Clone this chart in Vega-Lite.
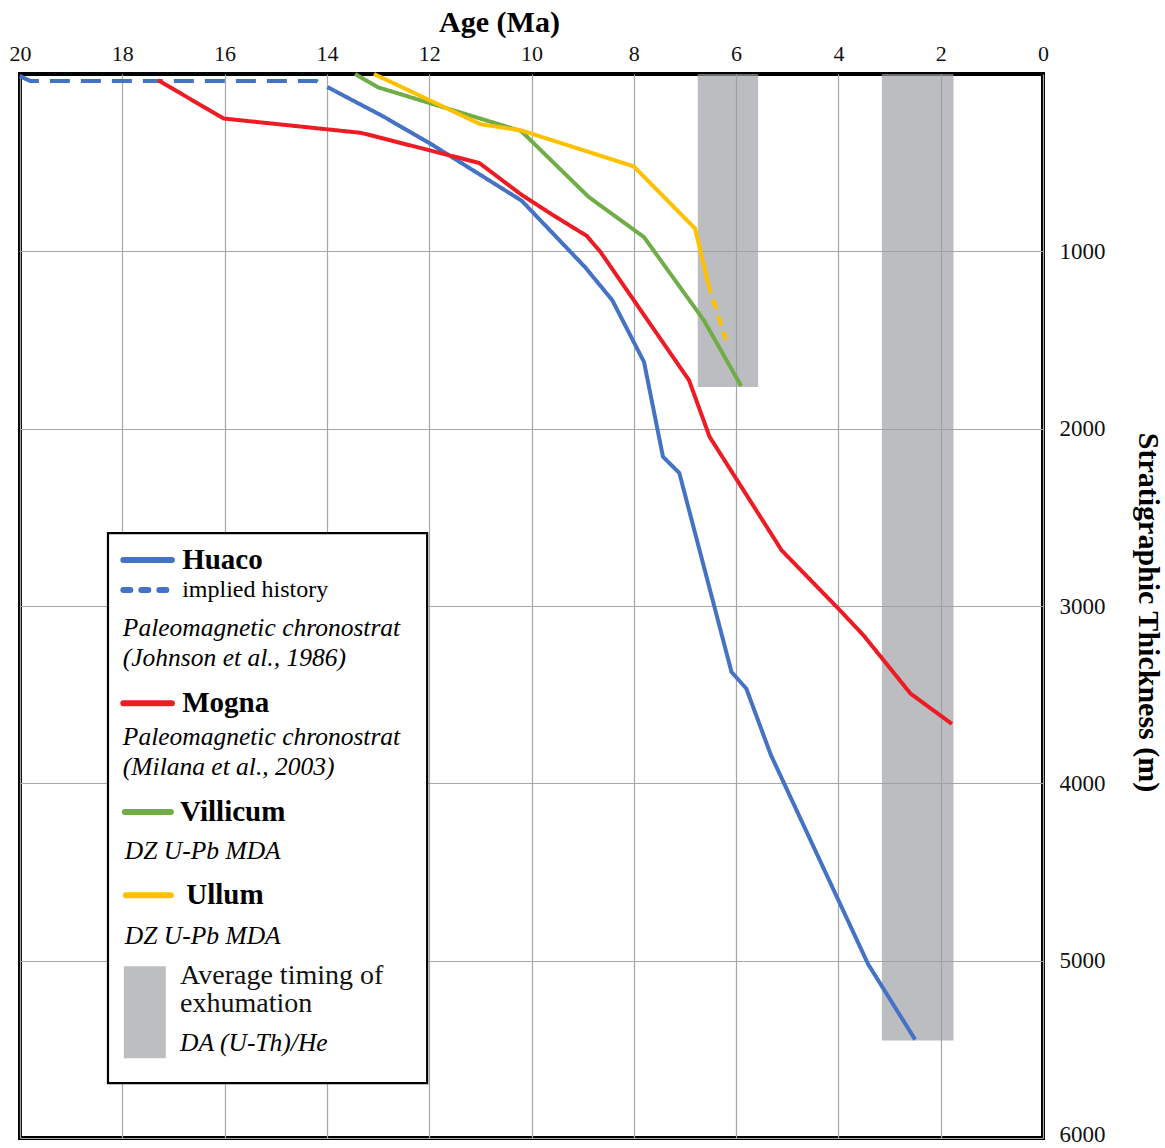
{
  "$schema": "https://vega.github.io/schema/vega-lite/v6.json",
  "width": 1023,
  "height": 1064,
  "autosize": {"type": "none"},
  "padding": {"left": 20, "top": 74, "right": 122, "bottom": 10},
  "background": "white",
  "config": {
    "view": {"stroke": "#000000", "strokeWidth": 4},
    "font": "Liberation Serif",
    "axis": {"labelFont": "Liberation Serif", "titleFont": "Liberation Serif", "labelColor": "#111", "titleColor": "#000", "gridColor": "#a6a6a6", "gridWidth": 1.2, "ticks": false, "domain": false}
  },
  "datasets": {
    "lines": [
      {"series": "Huaco implied", "age": 20.0, "thick": 12},
      {"series": "Huaco implied", "age": 19.8, "thick": 40},
      {"series": "Huaco implied", "age": 14.2, "thick": 40},
      {"series": "Huaco implied", "age": 13.85, "thick": 95},
      {"series": "Huaco", "age": 13.85, "thick": 95},
      {"series": "Huaco", "age": 12.88, "thick": 242},
      {"series": "Huaco", "age": 11.98, "thick": 392},
      {"series": "Huaco", "age": 10.19, "thick": 715},
      {"series": "Huaco", "age": 8.95, "thick": 1090},
      {"series": "Huaco", "age": 8.42, "thick": 1276},
      {"series": "Huaco", "age": 7.8, "thick": 1624},
      {"series": "Huaco", "age": 7.43, "thick": 2158},
      {"series": "Huaco", "age": 7.11, "thick": 2250},
      {"series": "Huaco", "age": 6.09, "thick": 3372},
      {"series": "Huaco", "age": 5.8, "thick": 3466},
      {"series": "Huaco", "age": 5.32, "thick": 3840},
      {"series": "Huaco", "age": 3.42, "thick": 5019},
      {"series": "Huaco", "age": 2.5, "thick": 5445},
      {"series": "Mogna", "age": 17.3, "thick": 35},
      {"series": "Mogna", "age": 16.02, "thick": 251},
      {"series": "Mogna", "age": 13.33, "thick": 332},
      {"series": "Mogna", "age": 11.02, "thick": 502},
      {"series": "Mogna", "age": 10.2, "thick": 680},
      {"series": "Mogna", "age": 9.6, "thick": 792},
      {"series": "Mogna", "age": 8.92, "thick": 913},
      {"series": "Mogna", "age": 8.65, "thick": 1004},
      {"series": "Mogna", "age": 6.92, "thick": 1727},
      {"series": "Mogna", "age": 6.52, "thick": 2045},
      {"series": "Mogna", "age": 5.11, "thick": 2686},
      {"series": "Mogna", "age": 4.0, "thick": 3015},
      {"series": "Mogna", "age": 3.51, "thick": 3165},
      {"series": "Mogna", "age": 2.59, "thick": 3494},
      {"series": "Mogna", "age": 1.78, "thick": 3665},
      {"series": "Villicum", "age": 13.45, "thick": 0},
      {"series": "Villicum", "age": 13.0, "thick": 75},
      {"series": "Villicum", "age": 10.2, "thick": 322},
      {"series": "Villicum", "age": 8.88, "thick": 694},
      {"series": "Villicum", "age": 7.8, "thick": 920},
      {"series": "Villicum", "age": 6.63, "thick": 1389},
      {"series": "Villicum", "age": 5.9, "thick": 1760},
      {"series": "Ullum", "age": 13.08, "thick": 0},
      {"series": "Ullum", "age": 11.0, "thick": 283},
      {"series": "Ullum", "age": 10.2, "thick": 318},
      {"series": "Ullum", "age": 8.0, "thick": 521},
      {"series": "Ullum", "age": 6.8, "thick": 872},
      {"series": "Ullum", "age": 6.55, "thick": 1180},
      {"series": "Ullum inferred", "age": 6.55, "thick": 1180},
      {"series": "Ullum inferred", "age": 6.2, "thick": 1500}
    ],
    "bands": [
      {"start": 6.75, "end": 5.57, "top": 0, "bottom": 1765},
      {"start": 3.15, "end": 1.75, "top": 0, "bottom": 5450}
    ],
    "legendBox": [
      {"a1": 18.28, "a2": 12.04, "t1": 2589, "t2": 5691}
    ],
    "legendSwatch": [
      {"a1": 17.97, "a2": 17.15, "t1": 5031, "t2": 5550}
    ],
    "legendLines": [
      {"series": "Huaco", "a1": 17.98, "a2": 17.03, "t": 2741},
      {"series": "Mogna", "a1": 17.98, "a2": 17.03, "t": 3548},
      {"series": "Villicum", "a1": 17.95, "a2": 17.05, "t": 4162},
      {"series": "Ullum", "a1": 17.93, "a2": 17.05, "t": 4631}
    ],
    "legendDashed": [
      {"series": "Huaco implied", "a1": 17.98, "a2": 17.03, "t": 2910}
    ],
    "legendText": [
      {"role": "name", "label": "Huaco", "age": 16.83, "thick": 2741},
      {"role": "plain", "label": "implied history", "age": 16.83, "thick": 2910},
      {"role": "note", "label": "Paleomagnetic chronostrat", "age": 17.99, "thick": 3125},
      {"role": "note", "label": "(Johnson et al., 1986)", "age": 17.99, "thick": 3294},
      {"role": "name", "label": "Mogna", "age": 16.83, "thick": 3548},
      {"role": "note", "label": "Paleomagnetic chronostrat", "age": 17.99, "thick": 3739},
      {"role": "note", "label": "(Milana et al., 2003)", "age": 17.99, "thick": 3909},
      {"role": "name", "label": "Villicum", "age": 16.87, "thick": 4162},
      {"role": "note", "label": "DZ U-Pb MDA", "age": 17.95, "thick": 4382},
      {"role": "name", "label": "Ullum", "age": 16.75, "thick": 4631},
      {"role": "note", "label": "DZ U-Pb MDA", "age": 17.95, "thick": 4862},
      {"role": "shade", "label": "Average timing of", "age": 16.87, "thick": 5085},
      {"role": "shade", "label": "exhumation", "age": 16.87, "thick": 5243},
      {"role": "note", "label": "DA (U-Th)/He", "age": 16.87, "thick": 5465}
    ]
  },
  "layer": [
    {
      "data": {"name": "bands"},
      "mark": {"type": "rect", "fill": "#9c9ea2", "opacity": 0.68},
      "encoding": {
        "x": {"field": "start", "type": "quantitative", "title": "Age (Ma)",
          "scale": {"domain": [0, 20], "reverse": true, "nice": false, "zero": false},
          "axis": {"orient": "top", "values": [0, 2, 4, 6, 8, 10, 12, 14, 16, 18, 20], "titleFontSize": 30, "titleFontWeight": "bold", "titleX": 479, "titleY": -52, "titleBaseline": "middle", "titleAlign": "center", "labelFontSize": 22, "labelPadding": 9, "labelFlush": false, "grid": true}},
        "x2": {"field": "end"},
        "y": {"field": "top", "type": "quantitative", "title": "Stratigraphic Thickness (m)",
          "scale": {"domain": [0, 6000], "reverse": true, "nice": false, "zero": false},
          "axis": {"orient": "right", "values": [1000, 2000, 3000, 4000, 5000, 6000], "format": "d", "titleFontSize": 30, "titleFontWeight": "bold", "titleAngle": 90, "titleX": 104, "titleY": 538, "titleBaseline": "middle", "titleAlign": "center", "labelFontSize": 23, "labelPadding": 16, "labelAlign": "left", "labelFlush": false, "labelOffset": {"condition": {"test": "datum.value == 6000", "value": -4}, "value": 0}, "grid": true}},
        "y2": {"field": "bottom"}
      }
    },
    {
      "data": {"name": "lines"},
      "mark": {"type": "line", "strokeJoin": "miter", "strokeCap": "butt"},
      "encoding": {
        "x": {"field": "age", "type": "quantitative", "title": "Age (Ma)"},
        "y": {"field": "thick", "type": "quantitative", "title": "Stratigraphic Thickness (m)"},
        "order": {"field": "thick", "type": "quantitative"},
        "color": {"field": "series", "type": "nominal", "legend": null,
          "scale": {"domain": ["Huaco", "Huaco implied", "Mogna", "Villicum", "Ullum", "Ullum inferred"], "range": ["#4472C4", "#4472C4", "#ED1C24", "#70AD47", "#FFC000", "#FFC000"]}},
        "strokeDash": {"field": "series", "type": "nominal", "legend": null,
          "scale": {"domain": ["Huaco", "Huaco implied", "Mogna", "Villicum", "Ullum", "Ullum inferred"], "range": [[1, 0], [20, 11], [1, 0], [1, 0], [1, 0], [10, 7]]}},
        "size": {"field": "series", "type": "nominal", "legend": null,
          "scale": {"domain": ["Huaco", "Huaco implied", "Mogna", "Villicum", "Ullum", "Ullum inferred"], "range": [4, 4, 4, 3, 4, 4]}}
      }
    },
    {
      "data": {"name": "legendBox"},
      "mark": {"type": "rect", "fill": "white", "stroke": "#000", "strokeWidth": 2.2},
      "encoding": {
        "x": {"field": "a1", "type": "quantitative", "title": "Age (Ma)"},
        "x2": {"field": "a2"},
        "y": {"field": "t1", "type": "quantitative", "title": "Stratigraphic Thickness (m)"},
        "y2": {"field": "t2"}
      }
    },
    {
      "data": {"name": "legendSwatch"},
      "mark": {"type": "rect", "fill": "#bdbec0"},
      "encoding": {
        "x": {"field": "a1", "type": "quantitative", "title": "Age (Ma)"},
        "x2": {"field": "a2"},
        "y": {"field": "t1", "type": "quantitative", "title": "Stratigraphic Thickness (m)"},
        "y2": {"field": "t2"}
      }
    },
    {
      "data": {"name": "legendLines"},
      "mark": {"type": "rule", "strokeWidth": 6, "strokeCap": "round"},
      "encoding": {
        "x": {"field": "a1", "type": "quantitative", "title": "Age (Ma)"},
        "x2": {"field": "a2"},
        "y": {"field": "t", "type": "quantitative", "title": "Stratigraphic Thickness (m)"},
        "color": {"field": "series", "type": "nominal", "legend": null}
      }
    },
    {
      "data": {"name": "legendDashed"},
      "mark": {"type": "rule", "strokeWidth": 6, "strokeCap": "round", "strokeDash": [7, 11]},
      "encoding": {
        "x": {"field": "a1", "type": "quantitative", "title": "Age (Ma)"},
        "x2": {"field": "a2"},
        "y": {"field": "t", "type": "quantitative", "title": "Stratigraphic Thickness (m)"},
        "color": {"field": "series", "type": "nominal", "legend": null}
      }
    },
    {
      "data": {"name": "legendText"},
      "transform": [{"filter": "datum.role === 'name'"}],
      "mark": {"type": "text", "align": "left", "baseline": "middle", "font": "Liberation Serif", "fontSize": 29, "fontWeight": "bold", "color": "#000"},
      "encoding": {
        "x": {"field": "age", "type": "quantitative", "title": "Age (Ma)"},
        "y": {"field": "thick", "type": "quantitative", "title": "Stratigraphic Thickness (m)"},
        "text": {"field": "label"}
      }
    },
    {
      "data": {"name": "legendText"},
      "transform": [{"filter": "datum.role === 'plain'"}],
      "mark": {"type": "text", "align": "left", "baseline": "middle", "font": "Liberation Serif", "fontSize": 24, "color": "#000"},
      "encoding": {
        "x": {"field": "age", "type": "quantitative", "title": "Age (Ma)"},
        "y": {"field": "thick", "type": "quantitative", "title": "Stratigraphic Thickness (m)"},
        "text": {"field": "label"}
      }
    },
    {
      "data": {"name": "legendText"},
      "transform": [{"filter": "datum.role === 'note'"}],
      "mark": {"type": "text", "align": "left", "baseline": "middle", "font": "Liberation Serif", "fontSize": 25.5, "fontStyle": "italic", "color": "#000"},
      "encoding": {
        "x": {"field": "age", "type": "quantitative", "title": "Age (Ma)"},
        "y": {"field": "thick", "type": "quantitative", "title": "Stratigraphic Thickness (m)"},
        "text": {"field": "label"}
      }
    },
    {
      "data": {"name": "legendText"},
      "transform": [{"filter": "datum.role === 'shade'"}],
      "mark": {"type": "text", "align": "left", "baseline": "middle", "font": "Liberation Serif", "fontSize": 28, "color": "#111"},
      "encoding": {
        "x": {"field": "age", "type": "quantitative", "title": "Age (Ma)"},
        "y": {"field": "thick", "type": "quantitative", "title": "Stratigraphic Thickness (m)"},
        "text": {"field": "label"}
      }
    }
  ]
}
